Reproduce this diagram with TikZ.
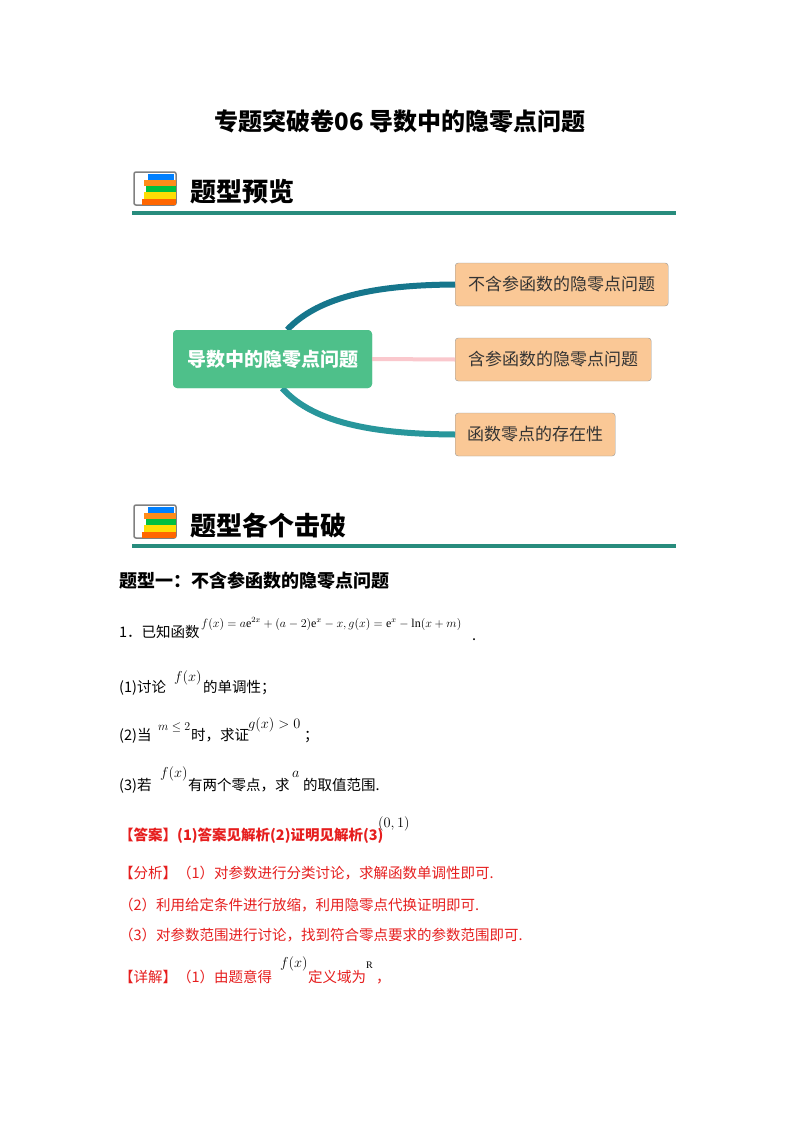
\documentclass[tikz,border=0pt]{standalone}
\usepackage{fontspec}
\setmainfont{Liberation Serif}
\newfontfamily\cjk{Noto Sans CJK SC}
\definecolor{teal1}{RGB}{40,140,125}
\definecolor{dteal}{RGB}{22,118,140}
\definecolor{lteal}{RGB}{40,150,155}
\definecolor{gbox}{RGB}{78,192,138}
\definecolor{obox}{RGB}{250,200,150}
\definecolor{redt}{RGB}{230,30,30}
\definecolor{pinkl}{RGB}{250,200,205}
\tikzset{
  rbox/.style={draw=gray!80,fill=obox,rounded corners=3pt,minimum height=43pt,anchor=west,inner xsep=8pt,font=\cjk\fontsize{17}{17}\selectfont,text=black!80},
  cbox/.style={draw=none,fill=gbox,rounded corners=4pt,minimum width=199pt,minimum height=58pt,font=\cjk\bfseries\fontsize{19}{19}\selectfont,text=white},
  txt/.style={anchor=base west,inner sep=0pt,font=\cjk\fontsize{14.5}{14.5}\selectfont},
  hdr/.style={anchor=west,inner sep=0pt,font=\cjk\bfseries\fontsize{26}{26}\selectfont},
  mth/.style={anchor=base west,inner sep=0pt,font=\fontsize{13.5}{13.5}\selectfont},
}
\newcommand{\bookicon}[2]{%
  \draw[gray,line width=1.5pt,rounded corners=2pt] (#1,#2) rectangle ++(42,33);
  \fill[blue!50!cyan] (#1+14,#2+2) rectangle ++(26,6);
  \fill[orange!90] (#1+10,#2+8) rectangle ++(32,6);
  \fill[green!50!teal] (#1+12,#2+14) rectangle ++(30,6);
  \fill[yellow!80!orange] (#1+10,#2+20) rectangle ++(32,7);
  \fill[orange!80!red] (#1+8,#2+27) rectangle ++(34,6);
}
\begin{document}
\begin{tikzpicture}[x=1pt,y=-1pt]
\useasboundingbox[fill=white] (0,0) rectangle (800,1132);
\node[font=\cjk\bfseries\fontsize{24}{24}\selectfont] (title) at (400,121) {专题突破卷06 导数中的隐零点问题};
% header 1
\bookicon{134}{172}
\node[hdr] (h1) at (190,192) {题型预览};
\draw[teal1,line width=4pt] (132,213) -- (676,213);
% mind map
\node[cbox] (c) at (272.5,359) {导数中的隐零点问题};
\node[rbox,minimum width=213pt] (b1) at (455,284.5) {不含参函数的隐零点问题};
\node[rbox,minimum width=196pt] (b2) at (455,359.5) {含参函数的隐零点问题};
\node[rbox,minimum width=160pt] (b3) at (455,434.5) {函数零点的存在性};
\draw[dteal,line width=6pt] ([xshift=-85pt]c.north east) .. controls (320,295) and (380,285) .. (b1.west);
\draw[pinkl,line width=4pt] (c.east) -- (b2.west);
\draw[lteal,line width=6pt] ([xshift=-90pt]c.south east) .. controls (315,425) and (380,434) .. (b3.west);
\node[cbox] at (272.5,359) {导数中的隐零点问题};
% header 2
\bookicon{134}{505}
\node[hdr] (h2) at (190,525) {题型各个击破};
\draw[teal1,line width=4pt] (132,546) -- (676,546);
\node[txt,font=\cjk\bfseries\fontsize{18}{18}\selectfont] (t1) at (119,587) {题型一：不含参函数的隐零点问题};
\node[txt] (q1) at (119,637) {1．已知函数};
\node[mth,font=\fontsize{12}{12}\selectfont] (f1) at (201,627) {$f(x)=a\mathrm{e}^{2x}+(a-2)\mathrm{e}^{x}-x,g(x)=\mathrm{e}^{x}-\ln(x+m)$};
\node[txt] (d1) at (472,640) {.};
\node[txt] (p1) at (119,692) {(1)讨论};
\node[mth] (f2) at (174,681) {$f\bigl(x\bigr)$};
\node[txt] (p1b) at (203,692) {的单调性；};
\node[txt] (p2) at (119,740) {(2)当};
\node[mth,font=\fontsize{12}{12}\selectfont] (f3) at (158,730) {$m\le 2$};
\node[txt] (p2b) at (191,740) {时，求证};
\node[mth] (f4) at (248,728) {$g\bigl(x\bigr)>0$};
\node[txt] (p2c) at (304,740) {；};
\node[txt] (p3) at (119,790) {(3)若};
\node[mth] (f5) at (160,777) {$f(x)$};
\node[txt] (p3b) at (188,790) {有两个零点，求};
\node[mth] (f6) at (292,777) {$a$};
\node[txt] (p3c) at (303,790) {的取值范围.};
\node[txt,text=redt,font=\cjk\bfseries\fontsize{14.5}{14.5}\selectfont] (ans) at (119,840) {【答案】(1)答案见解析(2)证明见解析(3)};
\node[mth,font=\sffamily\fontsize{14}{14}\selectfont] (f7) at (378,827) {$\bigl(0,1\bigr)$};
\node[txt,text=redt] (a1) at (119,878) {【分析】（1）对参数进行分类讨论，求解函数单调性即可.};
\node[txt,text=redt] (a2) at (119,910) {（2）利用给定条件进行放缩，利用隐零点代换证明即可.};
\node[txt,text=redt] (a3) at (119,940) {（3）对参数范围进行讨论，找到符合零点要求的参数范围即可.};
\node[txt,text=redt] (a4) at (119,982) {【详解】（1）由题意得};
\node[mth] (f8) at (280,967) {$f(x)$};
\node[txt,text=redt] (a4b) at (308,982) {定义域为};
\node[mth,font=\fontsize{10}{10}\selectfont] (f9) at (366,968) {R};
\node[txt,text=redt] (a4c) at (376,982) {，};
\end{tikzpicture}
\end{document}
